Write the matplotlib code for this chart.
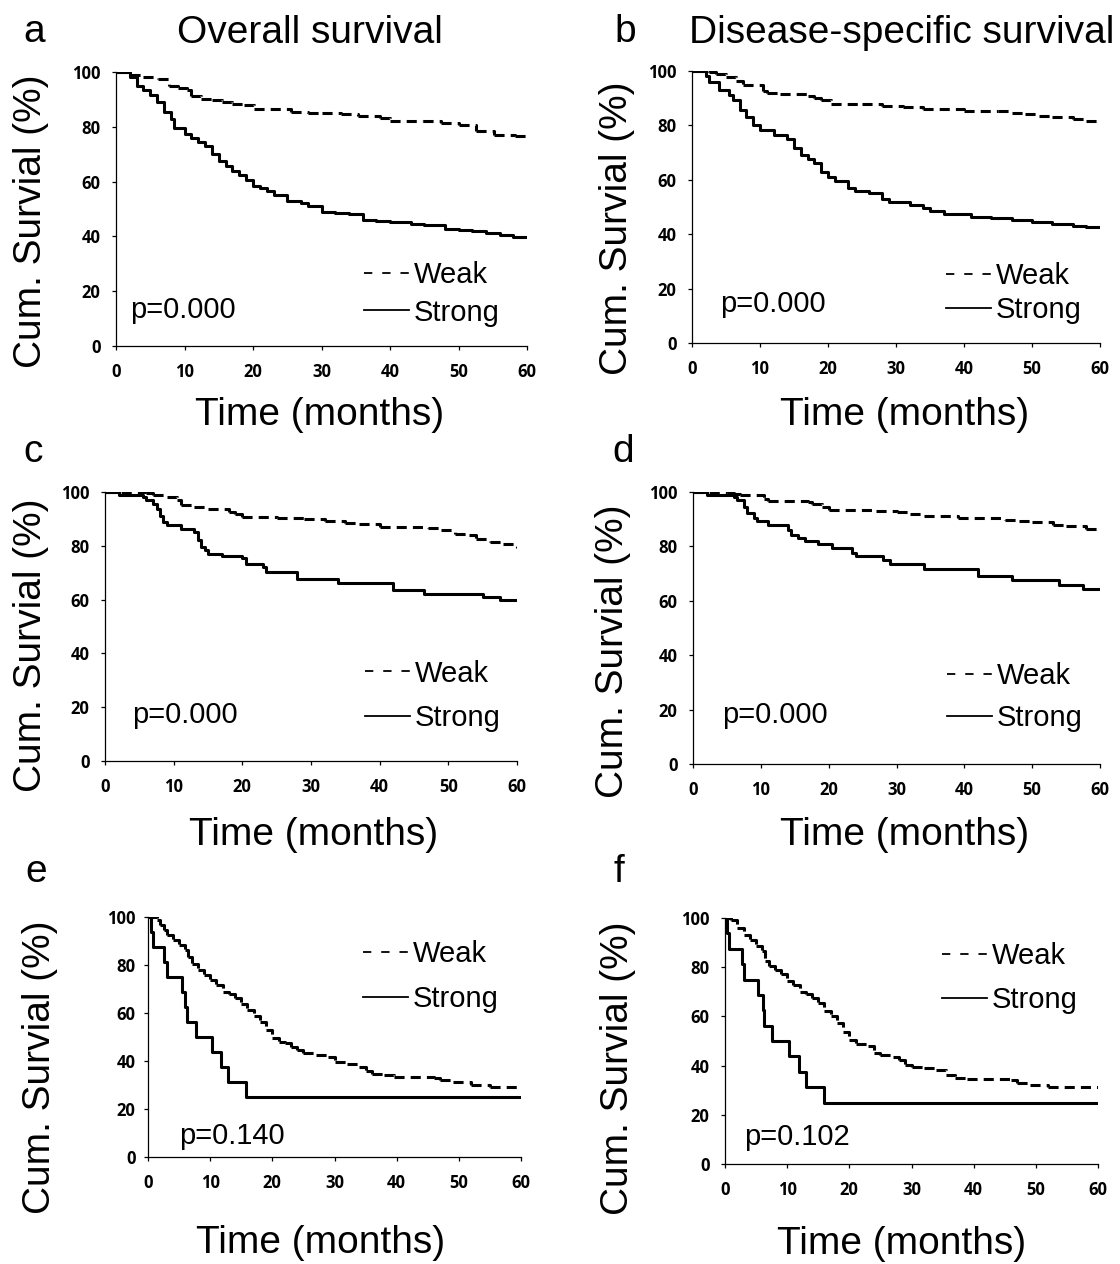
import matplotlib
matplotlib.use('Agg')
import matplotlib.pyplot as plt
from matplotlib.collections import LineCollection
from matplotlib.lines import Line2D

W, H = 1120, 1264

# ---- data (months, % surviving) ----
# a: overall survival
a_weak_t = [0, 2, 4, 6.2, 7.7, 9, 10.3, 11, 12.4, 14, 15.5, 17, 18.7, 20.2, 25.5, 28, 30, 32.8, 35.4,
            38.5, 40, 44.8, 47.4, 50, 52.6, 55.2, 58.3, 60]
a_weak_s = [100, 99, 98, 97.3, 95, 94, 93.5, 91.3, 90.3, 89.8, 89, 88.5, 88, 86.4, 85.5, 85.2, 85, 84.5, 84,
            83.3, 82.2, 82, 81.5, 80.7, 78.5, 77, 76.5, 75.2]
a_strong_t = [0, 2, 3, 4, 5, 6, 7, 8, 8.5, 10, 11, 12, 13, 14, 15, 16, 17, 18, 19, 20, 21, 22, 23, 25, 27,
              28, 30, 32, 34, 36, 38, 40, 43, 45, 48, 50, 52, 54, 56, 58, 60]
a_strong_s = [100, 98, 95, 93.5, 91.5, 89, 85.5, 83, 79.5, 77.5, 76, 74.5, 73, 70, 67.5, 65.8, 64, 62.5, 60.5,
              58.5, 57.5, 56.5, 55, 53, 52.2, 51, 49, 48.5, 48, 46, 45.5, 45.2, 44.5, 44, 42.8, 42.2, 41.8,
              41.2, 40.5, 39.8, 39.8]

# b: disease-specific survival
b_weak_t = [0, 2.5, 3.5, 5, 6.5, 7.5, 10.5, 11, 13, 17, 18, 19, 20.5, 25, 28, 31, 34, 40, 45, 47, 49, 51,
            53, 56, 58, 60]
b_weak_s = [100, 99.5, 98.9, 97.9, 96.3, 94.9, 92.8, 92, 91.5, 90.7, 90, 89.3, 88, 87.8, 87.1, 86.7, 86,
            85.4, 85.2, 84.7, 84.1, 83.6, 83.2, 82.3, 81.5, 81]
b_strong_t = [0, 2, 2.5, 4, 5.5, 6, 7, 8, 9, 10, 12, 14, 15, 16, 17, 18, 19, 20, 21, 23, 24, 26, 28, 29, 32,
              34, 35, 37, 41, 44, 47, 50, 53, 56, 58, 60]
b_strong_s = [100, 98, 96, 93, 91.2, 89.4, 85.7, 83.2, 80.2, 78.3, 76.5, 74.9, 71.6, 69.2, 67.5, 66.1, 63,
              61.2, 59.4, 56.9, 55.7, 55.3, 52.9, 51.7, 50.8, 49.6, 48.4, 47.5, 46.3, 46, 45.3, 44.5, 43.7,
              43, 42.6, 42.5]

# c
c_weak_t = [0, 6, 7, 9, 10.5, 11, 13, 15, 18, 19, 20, 25, 29, 32, 35, 37, 40, 47, 49, 51, 53, 54, 56, 58, 60]
c_weak_s = [100, 99.5, 99, 98, 97, 95, 94.5, 93.8, 92.6, 91.8, 90.7, 90.5, 89.8, 89.3, 88.5, 88, 87, 86.5,
            86, 84.5, 84, 82.6, 81.4, 80.6, 79.3]
c_strong_t = [0, 2, 5.5, 6, 7, 7.5, 8, 8.5, 9, 11, 13, 13.5, 14, 14.5, 15, 17, 20, 20.5, 23, 23.5, 28, 34,
              42, 46.5, 55, 57.5, 60]
c_strong_s = [100, 98.8, 98, 97, 95.5, 93.5, 91, 89, 87.6, 86.4, 85, 82, 79.5, 78.5, 77.1, 76.1, 75.5, 73.4,
              72.1, 70.3, 67.8, 66.2, 63.4, 62.2, 61, 59.8, 59.8]

# d
d_weak_t = [0, 5, 6, 7, 10.5, 11, 17, 17.5, 19, 20, 27, 30, 32, 34, 39, 46, 48, 50, 53, 55, 58, 60]
d_weak_s = [100, 99.6, 99.2, 98.8, 97.5, 96.8, 96.5, 95.5, 94.5, 93.5, 93, 92.5, 91.9, 91.3, 90.3, 89.8,
            89.2, 88.8, 88, 87.4, 86.5, 85.5]
d_strong_t = [0, 2, 6, 6.5, 7.5, 8, 9, 9.5, 11, 14, 14.5, 15.5, 16.5, 18.5, 20.5, 23.5, 24, 28, 29, 34, 42,
              47, 54, 57.5, 60]
d_strong_s = [100, 98.8, 98, 97.2, 94.5, 92.3, 90.4, 89.2, 88, 86.2, 84.3, 83.1, 81.9, 81, 79.4, 77.6, 76.3,
              75.1, 73.7, 71.8, 69, 67.5, 65.9, 64.3, 64.3]

# e
e_weak_t = [0, 1.5, 2, 2.5, 3, 4, 5, 6, 6.5, 7, 8, 9, 10, 11, 12, 13, 14, 15, 16, 17, 18, 19, 20, 21, 22,
            23, 24, 25, 27, 29, 30, 32, 34, 35, 36, 38, 39.5, 46, 47, 49, 52, 55, 60]
e_weak_s = [100, 98.6, 96.5, 94.5, 92.4, 90.3, 88.2, 86.1, 83.3, 80.6, 77.8, 75.7, 73.6, 71.5, 68.8, 68.1,
            66.4, 63.6, 61.1, 58.6, 56.3, 53.1, 49.6, 47.9, 47.5, 45.8, 44.5, 43.5, 42.4, 41.5, 39.6, 38.6,
            37.5, 36, 34.7, 34, 33.3, 33, 31.9, 31.2, 30.1, 29.2, 28.9]
e_strong_t = [0, 0.5, 0.8, 2.5, 3, 5.5, 6, 6.2, 7.7, 10.3, 11.8, 12.9, 15.8, 60]
e_strong_s = [100, 93.75, 87.5, 81.25, 75, 68.75, 62.5, 56.25, 50, 43.75, 37.5, 31.25, 25, 25]

# f
f_weak_t = [0, 1, 2, 3, 4, 5, 6, 6.5, 7, 8, 9, 10, 11, 12, 13, 14, 15, 16, 17, 18, 19, 20, 21, 23, 24, 25,
            27, 28, 29, 30, 32, 34, 35.5, 37, 39, 46, 47, 49, 52, 60]
f_weak_s = [100, 99, 95.9, 93.2, 91.2, 88.7, 86.4, 82.5, 80.3, 79, 77.2, 74.2, 72.9, 70.1, 69, 67.4, 65.4,
            62, 60, 57.3, 53.6, 50.5, 48.8, 47.8, 45.3, 44.4, 43.4, 42.3, 40.3, 39.3, 39, 38.3, 36.2, 35.1,
            34.5, 34.2, 33.1, 32.2, 31.2, 31]
f_strong_t = [0, 0.4, 0.7, 2.8, 3, 5.3, 6.1, 6.3, 7.5, 10.3, 11.9, 13, 15.9, 60]
f_strong_s = [100, 93.75, 87.5, 81.25, 75, 68.75, 62.5, 56.25, 50, 43.75, 37.5, 31.25, 25, 25]

p_values = ['p=0.000', 'p=0.000', 'p=0.000', 'p=0.000', 'p=0.140', 'p=0.102']
x_ticks = [0, 10, 20, 30, 40, 50, 60]
y_ticks = [0, 20, 40, 60, 80, 100]

FONT = 'Liberation Sans'
TICKFONT = 'Open Sans'


def px(x, y):
    return x / W, 1 - y / H


# axes box in pixels: left, top, right, bottom
panels = [
    dict(box=(116, 72, 527, 346), weak=(a_weak_t, a_weak_s), strong=(a_strong_t, a_strong_s),
         leg=(0.603, 0.19), lsp=0.32, p=(130, 318), letter=('a', 23, 42), ylab=(31, 221), xlab=(320, 425), ypad=8),
    dict(box=(692, 71, 1100, 343), weak=(b_weak_t, b_weak_s), strong=(b_strong_t, b_strong_s),
         leg=(0.623, 0.184), lsp=0.22, p=(720, 312), letter=('b', 614, 42), ylab=(617, 228), xlab=(905, 425), ypad=8),
    dict(box=(105, 492, 517, 761), weak=(c_weak_t, c_weak_s), strong=(c_strong_t, c_strong_s),
         leg=(0.631, 0.242), lsp=0.57, p=(132, 723), letter=('c', 23, 462), ylab=(31, 645), xlab=(314, 845), ypad=8),
    dict(box=(693, 492, 1100, 764), weak=(d_weak_t, d_weak_s), strong=(d_strong_t, d_strong_s),
         leg=(0.624, 0.246), lsp=0.5, p=(722, 723), letter=('d', 612, 462), ylab=(613, 651), xlab=(905, 845), ypad=8),
    dict(box=(148, 917, 521, 1157), weak=(e_weak_t, e_weak_s), strong=(e_strong_t, e_strong_s),
         leg=(0.576, 0.752), lsp=0.6, p=(179, 1144), letter=('e', 25, 882), ylab=(40, 1067), xlab=(321, 1253), ypad=6),
    dict(box=(725, 918, 1098, 1164), weak=(f_weak_t, f_weak_s), strong=(f_strong_t, f_strong_s),
         leg=(0.582, 0.756), lsp=0.57, p=(744, 1145), letter=('f', 614, 882), ylab=(618, 1068), xlab=(902, 1254), ypad=8),
]


def km_segments(t, s):
    # each step drawn on its own so the dash pattern restarts, like SPSS output
    segs = []
    for i in range(len(t) - 1):
        segs.append([(t[i], s[i]), (t[i + 1], s[i]), (t[i + 1], s[i + 1])])
    return segs


fig = plt.figure(figsize=(W / 100, H / 100), dpi=100)

for k, pn in enumerate(panels):
    L, T, R, B = pn['box']
    ax = fig.add_axes([L / W, 1 - B / H, (R - L) / W, (B - T) / H])

    wt, ws = pn['weak']
    lc = LineCollection(km_segments(wt, ws), colors='black', linewidths=2.2,
                        linestyles=[(0, (3.3, 2.0))], capstyle='butt')
    ax.add_collection(lc)
    st, ss = pn['strong']
    ax.step(st, ss, where='post', color='black', lw=2.2)

    ax.set_xlim(0, 60)
    ax.set_ylim(0, 100)
    ax.set_xticks(x_ticks)
    ax.set_yticks(y_ticks)
    ax.spines['top'].set_visible(False)
    ax.spines['right'].set_visible(False)
    for sp in ('left', 'bottom'):
        ax.spines[sp].set_linewidth(0.9)
    ax.tick_params(direction='out', length=3, width=0.9)
    ax.tick_params(axis='x', pad=9)
    ax.tick_params(axis='y', pad=pn['ypad'])
    for lab in ax.get_xticklabels() + ax.get_yticklabels():
        lab.set_fontfamily(TICKFONT)
        lab.set_fontweight('bold')
        lab.set_fontsize(12)

    handles = [Line2D([], [], color='black', lw=1.3, ls=(0, (4.6, 5.5))),
               Line2D([], [], color='black', lw=1.3)]
    ax.legend(handles, ['Weak', 'Strong'], loc='center left', bbox_to_anchor=pn['leg'],
              frameon=False, borderpad=0, borderaxespad=0, handlelength=1.55, handletextpad=0.15,
              labelspacing=pn['lsp'], prop={'family': FONT, 'size': 21})

    fig.text(*px(*pn['p']), p_values[k], family=FONT, fontsize=21, ha='left', va='baseline')
    letter, lx, ly = pn['letter']
    fig.text(*px(lx, ly), letter, family=FONT, fontsize=28, ha='left', va='baseline')
    fig.text(*px(*pn['ylab']), 'Cum. Survial (%)', family=FONT, fontsize=28, rotation=90,
             ha='center', va='center')
    fig.text(*px(*pn['xlab']), 'Time (months)', family=FONT, fontsize=28, ha='center', va='baseline')

fig.text(*px(177, 43), 'Overall survival', family=FONT, fontsize=28, ha='left', va='baseline')
fig.text(*px(689, 43), 'Disease-specific survival', family=FONT, fontsize=28, ha='left', va='baseline')

fig.savefig('out.png', dpi=100)
